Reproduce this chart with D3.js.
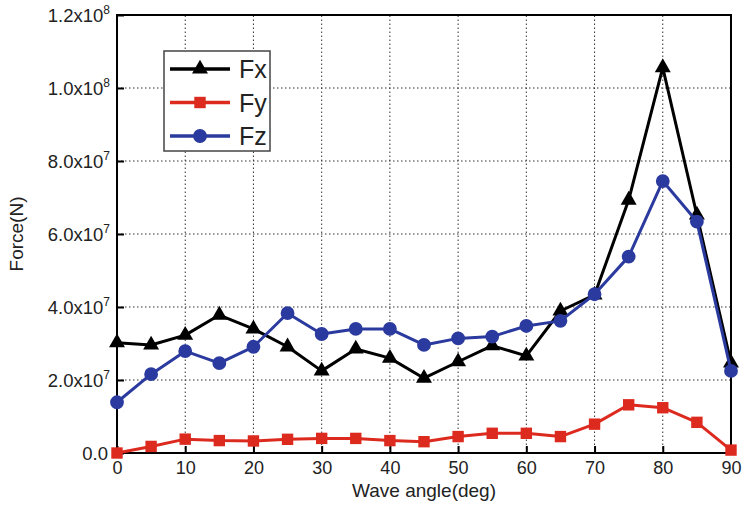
<!DOCTYPE html>
<html>
<head>
<meta charset="utf-8">
<script src="https://cdn.jsdelivr.net/npm/d3@7"></script>
<style>
  body { margin: 0; background: #fff; }
  svg text { font-family: "Liberation Sans", Arial, sans-serif; fill: #222; }
</style>
</head>
<body>
<div id="chart"></div>
<script>
// Wave angle (deg)
const angles = [0, 5, 10, 15, 20, 25, 30, 35, 40, 45, 50, 55, 60, 65, 70, 75, 80, 85, 90];
// Forces in units of 1e6 N
const fx = [30.2, 29.6, 32.3, 37.8, 34.0, 29.1, 22.5, 28.5, 26.0, 20.5, 25.0, 29.4, 26.6, 38.9, 43.3, 69.3, 105.6, 65.2, 24.7];
const fy = [0.0, 1.8, 3.8, 3.4, 3.3, 3.75, 4.0, 4.0, 3.4, 3.1, 4.5, 5.4, 5.4, 4.5, 7.9, 13.2, 12.4, 8.4, 0.8];
const fz = [13.9, 21.6, 27.9, 24.6, 29.1, 38.3, 32.6, 34.0, 34.0, 29.6, 31.4, 31.9, 34.8, 36.2, 43.5, 53.8, 74.5, 63.4, 22.5];
const xTicks = [0, 10, 20, 30, 40, 50, 60, 70, 80, 90];
const yTicks = [0, 20, 40, 60, 80, 100, 120];
const yTickLabels = [["0.0", ""], ["2.0x10", "7"], ["4.0x10", "7"], ["6.0x10", "7"], ["8.0x10", "7"], ["1.0x10", "8"], ["1.2x10", "8"]];

const W = 744, H = 505;
const m = { left: 117, right: 13, top: 15, bottom: 52 };

const svg = d3.select('#chart').append('svg')
  .attr('width', W).attr('height', H);

const x = d3.scaleLinear().domain([0, 90]).range([m.left, W - m.right]);
const y = d3.scaleLinear().domain([0, 120]).range([H - m.bottom, m.top]);

// --- Grid ---
const grid = svg.append('g').attr('stroke', '#333').attr('stroke-width', 1)
  .attr('stroke-dasharray', '1.5,2.5');
grid.selectAll('.gx').data(xTicks.slice(1, -1)).enter().append('line')
  .attr('x1', d => x(d)).attr('x2', d => x(d))
  .attr('y1', y(0)).attr('y2', y(120));
grid.selectAll('.gy').data(yTicks.slice(1, -1)).enter().append('line')
  .attr('y1', d => y(d)).attr('y2', d => y(d))
  .attr('x1', x(0)).attr('x2', x(90));

// --- Axes (inward ticks) ---
const xAxis = svg.append('g')
  .attr('transform', `translate(0,${y(0)})`)
  .call(d3.axisBottom(x).tickValues(xTicks).tickSize(-7).tickPadding(8).tickFormat(d3.format('d')));
xAxis.select('.domain').remove();
xAxis.selectAll('line').attr('stroke', '#000').attr('stroke-width', 2);
xAxis.selectAll('text').attr('font-size', 18).style('font-family', '"Liberation Sans", Arial, sans-serif').attr('fill', '#222');

const yAxis = svg.append('g')
  .attr('transform', `translate(${x(0)},0)`)
  .call(d3.axisLeft(y).tickValues(yTicks).tickSize(-7).tickPadding(7).tickFormat(() => ''));
yAxis.select('.domain').remove();
yAxis.selectAll('line').attr('stroke', '#000').attr('stroke-width', 2);
yAxis.selectAll('.tick text').each(function(d, i) {
  const t = d3.select(this).attr('font-size', 18.5).attr('dy', '0.35em')
    .style('font-family', '"Liberation Sans", Arial, sans-serif').attr('fill', '#222');
  const lab = yTickLabels[i];
  t.append('tspan').text(lab[0]);
  if (lab[1]) t.append('tspan').attr('font-size', 12).attr('dy', '-0.7em').text(lab[1]);
  else t.attr('dx', -2);
});

// Frame
svg.append('rect')
  .attr('x', x(0)).attr('y', y(120))
  .attr('width', x(90) - x(0)).attr('height', y(0) - y(120))
  .attr('fill', 'none').attr('stroke', '#000').attr('stroke-width', 2);

// --- Axis titles ---
svg.append('text').attr('x', (x(0) + x(90)) / 2).attr('y', 497)
  .attr('text-anchor', 'middle').attr('font-size', 19).text('Wave angle(deg)');
svg.append('text').attr('transform', `translate(23,${(y(0) + y(120)) / 2}) rotate(-90)`)
  .attr('text-anchor', 'middle').attr('font-size', 19).text('Force(N)');

// --- Series ---
const series = [
  { name: 'Fx', values: fx, color: '#000000', symbol: d3.symbolTriangle, size: 110 },
  { name: 'Fy', values: fy, color: '#dd2a1e', symbol: d3.symbolSquare, size: 130 },
  { name: 'Fz', values: fz, color: '#2b3a9e', symbol: d3.symbolCircle, size: 150 }
];

const line = d3.line().x((d, i) => x(angles[i])).y(d => y(d));

series.forEach(s => {
  svg.append('path').datum(s.values)
    .attr('d', line).attr('fill', 'none')
    .attr('stroke', s.color).attr('stroke-width', 3).attr('stroke-linejoin', 'round');
  svg.append('g').selectAll('path').data(s.values).enter().append('path')
    .attr('d', d3.symbol().type(s.symbol).size(s.size))
    .attr('transform', (d, i) => `translate(${x(angles[i])},${y(d)})`)
    .attr('fill', s.color);
});

// --- Legend ---
const lg = svg.append('g').attr('transform', 'translate(164,51)');
lg.append('rect').attr('width', 106).attr('height', 100)
  .attr('fill', '#fff').attr('stroke', '#444').attr('stroke-width', 1.5);
series.forEach((s, i) => {
  const ly = 18 + i * 33.5;
  lg.append('line').attr('x1', 6).attr('x2', 66).attr('y1', ly).attr('y2', ly)
    .attr('stroke', s.color).attr('stroke-width', 3.5);
  lg.append('path').attr('d', d3.symbol().type(s.symbol).size(s.size))
    .attr('transform', `translate(36,${ly})`).attr('fill', s.color);
  lg.append('text').attr('x', 75).attr('y', ly).attr('dy', '0.36em')
    .attr('font-size', 25).text(s.name);
});
</script>
</body>
</html>
